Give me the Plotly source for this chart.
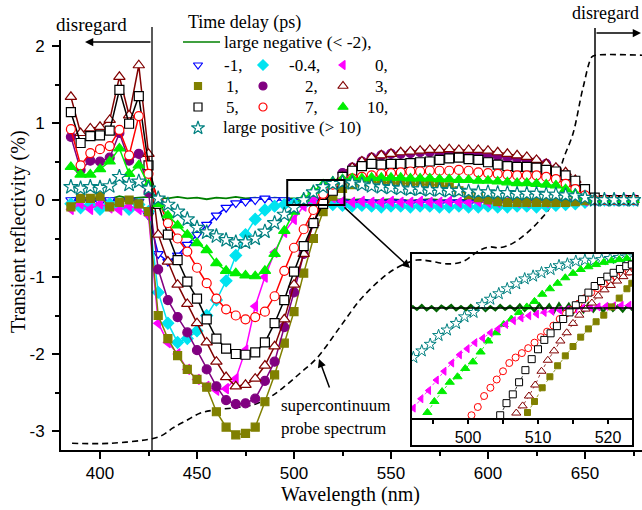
import numpy as np
import plotly.graph_objects as go

# ---------------- data (main panel) ----------------
WL = list(range(385, 680, 5))  # 385 ... 675 nm

LARGE_NEG = [0.02, 0.04, 0.00, 0.03, 0.01, 0.05, 0.02, 0.03, 0.04,
             0.03, 0.02, 0.04, 0.02, 0.03, 0.01, 0.03, 0.02, 0.04, 0.02, 0.03, 0.01, 0.03, 0.02, 0.02, 0.01, 0.00, 0.01, 0.00,
             0.01, 0.00, 0.01, -0.01, 0.00, 0.01, 0.00, -0.01, 0.00, 0.01, 0.00, -0.01, 0.00, 0.00, 0.01, -0.01, 0.00, 0.00, -0.01, 0.00, 0.01, 0.00, -0.01, 0.00, 0.00, -0.01,
             0.0, 0.0, 0.0, 0.0, 0.0]
D_M1 = [0.00, -0.02, 0.00, -0.03, 0.00, -0.02, 0.00, -0.02, -0.20,
        -0.70, -0.80, -0.72, -0.58, -0.45, -0.32, -0.20, -0.10, -0.04, -0.02, 0.00, 0.02, 0.00, 0.00, -0.02, -0.02, -0.03, -0.03, -0.03,
        -0.03, -0.04, -0.03, -0.03, -0.04, -0.03, -0.03, -0.04, -0.03, -0.03, -0.04, -0.03, -0.03, -0.04, -0.03, -0.03, -0.04, -0.03, -0.03, -0.04, -0.03, -0.03, -0.03, -0.02, -0.02, -0.01,
        0.0, 0.0, 0.0, 0.0, 0.0]
D_M04 = [-0.05, -0.10, -0.06, -0.12, -0.05, -0.08, -0.12, -0.06, -0.15,
         -1.20, -1.60, -1.85, -1.80, -1.70, -1.50, -1.30, -1.05, -0.72, -0.45, -0.25, -0.13, -0.08, -0.06, -0.05, -0.05, -0.05, -0.06, -0.06,
         -0.07, -0.08, -0.07, -0.08, -0.09, -0.08, -0.08, -0.09, -0.08, -0.08, -0.09, -0.09, -0.08, -0.09, -0.09, -0.08, -0.09, -0.09, -0.08, -0.08, -0.09, -0.08, -0.07, -0.06, -0.05, -0.03,
         0.0, 0.0, 0.0, 0.0, 0.0]
D_P0 = [-0.12, -0.05, -0.12, -0.05, -0.10, -0.13, -0.08, -0.12, -0.20,
        -1.60, -1.85, -2.00, -2.20, -2.33, -2.42, -2.47, -2.45, -2.32, -1.95, -1.38, -1.00, -0.68, -0.42, -0.25, -0.08, 0.00, 0.03, 0.03,
        -0.02, -0.03, -0.02, -0.03, -0.03, -0.02, -0.03, -0.03, -0.02, -0.03, -0.03, -0.02, -0.03, -0.03, -0.02, -0.03, -0.03, -0.02, -0.03, -0.03, -0.02, -0.03, -0.02, -0.02, -0.01, -0.01,
        0.0, 0.0, 0.0, 0.0, 0.0]
D_P1 = [-0.09, 0.02, 0.02, 0.05, -0.09, -0.03, 0.00, -0.05, -0.15,
        -1.50, -1.80, -2.02, -2.20, -2.33, -2.43, -2.75, -2.95, -3.05, -3.03, -2.95, -2.62, -2.27, -1.86, -1.45, -0.95, -0.50, -0.15, 0.05,
        0.15, 0.20, 0.22, 0.23, 0.23, 0.22, 0.22, 0.21, 0.20, 0.20, 0.19, 0.17, 0.12, 0.07, 0.03, 0.00, -0.02, -0.03, -0.03, -0.03, -0.03, -0.03, -0.03, -0.03, -0.02, -0.01,
        0.0, 0.0, 0.0, 0.0, 0.0]
D_P2 = [0.82, 0.39, 0.51, 0.50, 0.55, 0.87, 0.51, 0.60, 0.10,
        -0.90, -1.30, -1.52, -1.72, -1.95, -2.20, -2.42, -2.60, -2.65, -2.64, -2.58, -2.35, -2.10, -1.65, -1.20, -0.70, -0.30, 0.00, 0.15,
        0.35, 0.42, 0.50, 0.55, 0.58, 0.60, 0.60, 0.61, 0.62, 0.62, 0.62, 0.62, 0.62, 0.60, 0.60, 0.58, 0.57, 0.55, 0.54, 0.52, 0.50, 0.47, 0.40, 0.30, 0.22, 0.10,
        0.0, 0.0, 0.0, 0.0, 0.0]
D_P3 = [1.34, 0.87, 0.93, 0.95, 1.04, 1.60, 1.10, 1.75, 0.60,
        -0.45, -0.80, -1.10, -1.35, -1.60, -1.85, -2.10, -2.30, -2.42, -2.40, -2.32, -2.15, -1.90, -1.55, -1.10, -0.70, -0.30, 0.00, 0.15,
        0.30, 0.42, 0.50, 0.55, 0.58, 0.60, 0.62, 0.63, 0.64, 0.65, 0.65, 0.66, 0.65, 0.65, 0.65, 0.64, 0.62, 0.60, 0.58, 0.56, 0.52, 0.47, 0.42, 0.36, 0.26, 0.10,
        0.0, 0.0, 0.0, 0.0, 0.0]
D_P5 = [1.14, 0.74, 0.83, 0.84, 0.90, 1.43, 0.99, 1.35, 0.45,
        -0.05, -0.45, -0.78, -1.06, -1.28, -1.55, -1.80, -1.93, -2.00, -2.01, -1.98, -1.85, -1.60, -1.30, -0.93, -0.60, -0.30, -0.05, 0.12,
        0.30, 0.38, 0.44, 0.47, 0.46, 0.47, 0.47, 0.48, 0.49, 0.50, 0.52, 0.54, 0.55, 0.53, 0.52, 0.49, 0.46, 0.44, 0.43, 0.43, 0.42, 0.39, 0.37, 0.32, 0.25, 0.14,
        0.03, 0.0, 0.0, 0.0, 0.0]
D_P7 = [0.92, 0.45, 0.61, 0.66, 0.70, 0.91, 0.58, 1.09, 0.34,
        0.00, -0.30, -0.50, -0.67, -0.88, -1.08, -1.28, -1.42, -1.50, -1.55, -1.52, -1.45, -1.25, -0.92, -0.62, -0.38, -0.13, 0.08, 0.20,
        0.25, 0.28, 0.30, 0.32, 0.34, 0.35, 0.36, 0.37, 0.37, 0.38, 0.38, 0.38, 0.39, 0.38, 0.36, 0.35, 0.34, 0.33, 0.32, 0.32, 0.32, 0.30, 0.27, 0.21, 0.14, 0.06,
        0.0, 0.0, 0.0, 0.0, 0.0]
D_P10 = [0.43, 0.33, 0.33, 0.40, 0.50, 0.67, 0.34, 0.45, 0.20,
         -0.05, -0.20, -0.33, -0.45, -0.56, -0.65, -0.82, -0.92, -0.95, -0.98, -0.99, -0.92, -0.70, -0.40, -0.15, 0.02, 0.12, 0.20, 0.24,
         0.27, 0.28, 0.28, 0.29, 0.29, 0.29, 0.29, 0.28, 0.28, 0.28, 0.27, 0.27, 0.26, 0.26, 0.25, 0.25, 0.24, 0.23, 0.22, 0.22, 0.21, 0.20, 0.19, 0.14, 0.08, 0.03,
         0.0, 0.0, 0.0, 0.0, 0.0]
LARGE_POS = [0.17, 0.15, 0.17, 0.16, 0.18, 0.30, 0.20, 0.24, 0.15,
             0.02, -0.06, -0.15, -0.25, -0.36, -0.42, -0.47, -0.52, -0.55, -0.55, -0.50, -0.41, -0.30, -0.19, -0.10, 0.00, 0.10, 0.17, 0.21,
             0.23, 0.22, 0.20, 0.18, 0.17, 0.16, 0.15, 0.14, 0.14, 0.13, 0.13, 0.12, 0.12, 0.11, 0.10, 0.10, 0.09, 0.09, 0.08, 0.08, 0.08, 0.07, 0.07, 0.06, 0.05, 0.03,
             0.0, 0.0, 0.0, 0.0, 0.0]

# supercontinuum probe spectrum (arbitrary units drawn on the same axis)
PROBE_WL = [385.6, 405, 426.8, 432.5, 437.6, 444.8, 451.5, 458.2, 468.6, 478.9, 487.6, 494.3, 503.1, 511.9,
            523.7, 534, 544.3, 553, 563.4, 571.6, 578.9, 587, 595.9, 601, 606, 612.9, 620, 626.8, 632,
            638.7, 643.8, 649, 653.6, 655.5, 680]
PROBE_Y = [-3.16, -3.16, -3.10, -3.05, -2.96, -2.86, -2.77, -2.73, -2.70, -2.66, -2.56, -2.44, -2.25, -2.05,
           -1.65, -1.30, -1.04, -0.88, -0.78, -0.80, -0.83, -0.80, -0.65, -0.61, -0.62, -0.56, -0.43, -0.26, -0.09,
           0.52, 0.86, 1.46, 1.86, 1.88, 1.88]

# ---------------- data (inset, 492-523 nm) ----------------
IN_LN_Y = [0.004, -0.003, 0.005, -0.004, 0.003, -0.005, 0.004, -0.002, 0.005, -0.004, 0.003, -0.004,
           0.005, -0.003, 0.004, -0.005, 0.003, -0.004, 0.005, -0.003, 0.004, -0.004, 0.006, -0.005,
           0.004, -0.006, 0.007, -0.005, 0.006, -0.007, 0.008, -0.006, 0.007, -0.008, 0.006, -0.007,
           0.008, -0.006, 0.005, -0.007, 0.006, -0.005, 0.004, -0.006, 0.005, -0.004]
IN_LP_X = [492.2, 493.4, 494.6, 495.8, 497.0, 498.3, 499.5, 500.8, 502.0, 503.2, 504.4, 505.6, 506.9,
           508.1, 509.3, 510.5, 511.8, 513.0, 514.2, 515.4, 516.7, 517.9, 519.1, 520.3, 521.6, 522.8]
IN_LP_Y = [-0.090, -0.078, -0.066, -0.050, -0.040, -0.028, -0.016, -0.008, 0.006, 0.016, 0.026, 0.035, 0.044,
           0.053, 0.058, 0.064, 0.070, 0.077, 0.080, 0.085, 0.087, 0.086, 0.088, 0.090, 0.092, 0.093]
IN_P10_X = [494.2, 495.2, 496.3, 497.4, 498.5, 499.6, 500.7, 501.8, 502.9, 504.0, 505.1, 506.2, 507.3, 508.4,
            509.5, 510.6, 511.7, 512.8, 513.9, 515.0, 516.1, 517.2, 518.3, 519.4, 520.5, 521.6, 522.7]
IN_P10_Y = [-0.190, -0.170, -0.152, -0.135, -0.125, -0.110, -0.098, -0.080, -0.060, -0.045, -0.030, -0.020, -0.008, 0.002,
            0.012, 0.025, 0.035, 0.045, 0.055, 0.063, 0.070, 0.075, 0.079, 0.083, 0.086, 0.088, 0.090]
IN_P0_X = [492.2, 493.3, 494.4, 495.5, 496.6, 497.7, 498.8, 499.9, 501.0, 502.1, 503.2, 504.3, 505.4, 506.5, 507.6,
           508.7, 509.8, 510.9, 512.0, 513.1, 514.2, 515.3, 516.4, 517.5, 518.6, 519.7, 520.8, 521.9, 523.0]
IN_P0_Y = [-0.182, -0.165, -0.150, -0.131, -0.115, -0.100, -0.085, -0.074, -0.063, -0.055, -0.045, -0.038, -0.030, -0.023, -0.018,
           -0.014, -0.011, -0.008, -0.006, -0.004, -0.003, -0.002, 0.000, 0.001, 0.002, 0.003, 0.004, 0.005, 0.005]
IN_P7_X = [500.5, 501.4, 502.3, 503.2, 504.1, 505.0, 505.9, 506.8, 507.7, 508.6, 509.5, 510.4, 511.3, 512.2, 513.1,
           514.0, 514.9, 515.8, 516.7, 517.6, 518.5, 519.4, 520.3, 521.2, 522.1, 523.0]
IN_P7_Y = [-0.195, -0.180, -0.160, -0.145, -0.130, -0.115, -0.100, -0.090, -0.082, -0.073, -0.063, -0.053, -0.043, -0.032, -0.020,
           -0.010, -0.003, 0.008, 0.018, 0.028, 0.036, 0.044, 0.050, 0.057, 0.062, 0.066]
IN_P5_X = [504.6, 505.5, 506.4, 507.3, 508.2, 509.1, 510.0, 510.9, 511.8, 512.7, 513.6, 514.5, 515.4, 516.3, 517.2,
           518.1, 519.0, 519.9, 520.8, 521.7, 522.6, 523.4]
IN_P5_Y = [-0.195, -0.173, -0.157, -0.135, -0.113, -0.093, -0.075, -0.058, -0.046, -0.033, -0.020, -0.008, 0.005, 0.016, 0.028,
           0.040, 0.049, 0.057, 0.064, 0.071, 0.076, 0.079]
IN_P3_X = [506.9, 507.8, 508.7, 509.6, 510.5, 511.4, 512.3, 513.2, 514.1, 515.0, 515.9, 516.8, 517.7, 518.6, 519.5,
           520.4, 521.3, 522.2, 523.1]
IN_P3_Y = [-0.191, -0.178, -0.160, -0.140, -0.115, -0.095, -0.078, -0.060, -0.045, -0.028, -0.013, -0.002, 0.009, 0.022, 0.033,
           0.041, 0.049, 0.057, 0.064]
IN_P1_X = [508.5, 509.5, 510.6, 511.7, 512.8, 513.9, 515.0, 516.1, 517.2, 518.3, 519.4, 520.5, 521.6, 522.7, 523.4]
IN_P1_Y = [-0.190, -0.170, -0.145, -0.125, -0.105, -0.087, -0.070, -0.053, -0.038, -0.025, -0.013, 0.002, 0.018, 0.035, 0.045]

# ---------------- geometry ----------------
W, H = 642, 510
ML, MR, MT, MB = 61, 0, 40, 60
PW, PH = W - ML - MR, H - MT - MB
X_RANGE = [400 - 39 / 1.94, 400 + 542 / 1.94]
Y_RANGE = [(200 - 450) / 77, (200 - 40) / 77]
ZOOM_BOX = dict(x0=496.5, x1=526.0, y0=-0.065, y1=0.26)
INSET_X_RANGE = [491.86, 523.57]
INSET_Y_RANGE = [-0.2, 0.1]

SERIF = "Times New Roman, Liberation Serif, Times, serif"
SANS = "Arial, Liberation Sans, Helvetica, sans-serif"


def px(x):
    return (x - ML) / PW


def py(y):
    return (H - MB - y) / PH


# style per series: (symbol, size, fill, line colour)
STYLES = {
    "-1": ("triangle-down", 9, "white", "#0000ff"),
    "-0.4": ("diamond", 9, "#00e3f0", "#00e3f0"),
    "0": ("triangle-left", 9, "#ff00ff", "#ff00ff"),
    "1": ("square", 8, "#808000", "#808000"),
    "2": ("circle", 9, "#800080", "#800080"),
    "3": ("triangle-up", 10, "white", "#800000"),
    "5": ("square", 9, "white", "#000000"),
    "7": ("circle", 9, "white", "#ff0000"),
    "10": ("triangle-up", 10, "#00ee00", "#00ee00"),
    "lp": ("star", 11, "white", "#008080"),
}

fig = go.Figure()

# probe spectrum (dashed)
fig.add_trace(go.Scatter(x=PROBE_WL, y=PROBE_Y, mode="lines", line=dict(color="black", width=1.6, dash="6px,4px"),
                         line_shape="spline", hoverinfo="skip"))

fig.add_trace(go.Scatter(x=WL, y=LARGE_NEG, mode="lines", line=dict(color="#008000", width=1.8)))

main_series = [("-1", D_M1), ("-0.4", D_M04), ("0", D_P0), ("1", D_P1), ("2", D_P2), ("3", D_P3),
               ("5", D_P5), ("7", D_P7), ("10", D_P10), ("lp", LARGE_POS)]
for key, vals in main_series:
    sym, size, fill, col = STYLES[key]
    fig.add_trace(go.Scatter(
        x=WL, y=vals, mode="lines+markers",
        line=dict(color=col, width=1.5),
        marker=dict(symbol=sym, size=size, color=fill, line=dict(color=col, width=1.2)),
    ))

# inset traces
fig.add_trace(go.Scatter(x=list(np.linspace(492.0, 523.5, len(IN_LN_Y))), y=IN_LN_Y, mode="lines",
                         line=dict(color="#006400", width=2.5), xaxis="x2", yaxis="y2"))
inset_series = [("lp", IN_LP_X, IN_LP_Y), ("10", IN_P10_X, IN_P10_Y), ("0", IN_P0_X, IN_P0_Y),
                ("7", IN_P7_X, IN_P7_Y), ("5", IN_P5_X, IN_P5_Y), ("3", IN_P3_X, IN_P3_Y), ("1", IN_P1_X, IN_P1_Y)]
for key, xs, ys in inset_series:
    sym, size, fill, col = STYLES[key]
    fig.add_trace(go.Scatter(
        x=xs, y=ys, mode="lines+markers", xaxis="x2", yaxis="y2",
        line=dict(color=col, width=0.8, dash="dot"),
        marker=dict(symbol=sym, size=size - 2, color=fill, line=dict(color=col, width=1)),
    ))

# ---------------- legend (pixel coordinate overlay) ----------------
LEG_COLS = [198, 263, 343]
LEG_ROWS = [65, 86, 107, 128]
legend_grid = [["-1", "-0.4", "0"], ["1", "2", "3"], ["5", "7", "10"]]
for r, row in enumerate(legend_grid):
    for c, key in enumerate(row):
        sym, size, fill, col = STYLES[key]
        fig.add_trace(go.Scatter(x=[LEG_COLS[c]], y=[LEG_ROWS[r]], mode="markers", xaxis="x3", yaxis="y3",
                                 cliponaxis=False,
                                 marker=dict(symbol=sym, size=size - 1, color=fill, line=dict(color=col, width=1.2))))
sym, size, fill, col = STYLES["lp"]
fig.add_trace(go.Scatter(x=[LEG_COLS[0]], y=[LEG_ROWS[3]], mode="markers", xaxis="x3", yaxis="y3", cliponaxis=False,
                         marker=dict(symbol=sym, size=size - 1, color=fill, line=dict(color=col, width=1.2))))
fig.add_trace(go.Scatter(x=[183, 220], y=[42, 42], mode="lines", xaxis="x3", yaxis="y3", cliponaxis=False,
                         line=dict(color="#008000", width=1.6)))

ann = []


def text(t, x, y, size=17, xanchor="left", family=SERIF, textangle=0):
    ann.append(dict(text=t, x=px(x), y=py(y), xref="paper", yref="paper", showarrow=False,
                    xanchor=xanchor, yanchor="middle", textangle=textangle,
                    font=dict(family=family, size=size, color="black")))


def arrow(hx, hy, tx, ty):
    ann.append(dict(text="", x=px(hx), y=py(hy), xref="paper", yref="paper", showarrow=True,
                    ax=tx - hx, ay=ty - hy, axref="pixel", ayref="pixel",
                    arrowhead=2, arrowsize=1.1, arrowwidth=1.5, arrowcolor="black", standoff=0, startstandoff=0))


text("Time delay (ps)", 186, 23, size=18)
text("large negative (< -2),", 222, 42, size=17.5)
text("-1,", 222, LEG_ROWS[0]); text("-0.4,", 322, LEG_ROWS[0], xanchor="right"); text("0,", 390, LEG_ROWS[0], xanchor="right")
text("1,", 224, LEG_ROWS[1]); text("2,", 320, LEG_ROWS[1], xanchor="right"); text("3,", 390, LEG_ROWS[1], xanchor="right")
text("5,", 224, LEG_ROWS[2]); text("7,", 320, LEG_ROWS[2], xanchor="right"); text("10,", 390, LEG_ROWS[2], xanchor="right")
text("large positive (> 10)", 221, LEG_ROWS[3])

text("disregard", 54, 25, size=19)
text("disregard", 641, 13, size=18, xanchor="right")
text("supercontinuum", 279, 405)
text("probe spectrum", 279, 428)
text("Wavelength (nm)", 350, 494, size=20, xanchor="center")
text("Transient reflectivity (%)", 18, 232, size=20, xanchor="center", textangle=-90)

arrow(85, 42, 152, 42)
arrow(641, 33, 595, 33)
arrow(410, 268, 343, 206)
arrow(319, 359, 330, 389)

shapes = [
    dict(type="line", xref="paper", yref="paper", x0=px(152), x1=px(152), y0=py(450), y1=py(27),
         line=dict(color="black", width=1.3)),
    dict(type="line", xref="paper", yref="paper", x0=px(595), x1=px(595), y0=py(253), y1=py(28),
         line=dict(color="black", width=1.5)),
    dict(type="rect", xref="x", yref="y", line=dict(color="black", width=2), **ZOOM_BOX),
    dict(type="rect", xref="paper", yref="paper", x0=px(411), x1=px(633), y0=py(446), y1=py(253),
         line=dict(color="black", width=2)),
    dict(type="line", xref="x2 domain", yref="y2", x0=0, x1=1, y0=0, y1=0, line=dict(color="black", width=1.3)),
]

tickfont = dict(family=SANS, size=17, color="black")
fig.update_layout(
    width=W, height=H, margin=dict(l=ML, r=MR, t=MT, b=MB),
    paper_bgcolor="white", plot_bgcolor="rgba(0,0,0,0)", showlegend=False,
    annotations=ann, shapes=shapes,
    xaxis=dict(range=X_RANGE, showline=True, linecolor="black", linewidth=2, ticks="outside", ticklen=7,
               tickwidth=2, tickcolor="black", tickvals=[400, 450, 500, 550, 600, 650], tickfont=tickfont,
               showgrid=False, zeroline=False,
               minor=dict(tickvals=[425, 475, 525, 575, 625, 675], ticks="outside", ticklen=4, tickwidth=2,
                          tickcolor="black")),
    yaxis=dict(range=Y_RANGE, showline=True, linecolor="black", linewidth=2, ticks="outside", ticklen=7,
               tickwidth=2, tickcolor="black", tickvals=[-3, -2, -1, 0, 1, 2],
               ticktext=["-3", "-2", "-1", "0", "1", "2"], tickfont=tickfont, ticklabelstandoff=4,
               showgrid=False, zeroline=False,
               minor=dict(tickvals=[-2.5, -1.5, -0.5, 0.5, 1.5], ticks="outside", ticklen=4, tickwidth=2,
                          tickcolor="black")),
    xaxis2=dict(domain=[px(411), px(633)], anchor="y2", range=INSET_X_RANGE, showline=True, linecolor="black",
                linewidth=1.5, ticks="outside", ticklen=4, tickwidth=1.5, tickcolor="black",
                tickvals=[500, 510, 520], tickfont=dict(family=SANS, size=16, color="black"),
                showgrid=False, zeroline=False,
                minor=dict(tickvals=[495, 505, 515], ticks="outside", ticklen=4, tickwidth=1.5, tickcolor="black")),
    yaxis2=dict(domain=[py(418), py(253)], anchor="x2", range=INSET_Y_RANGE, visible=False),
    xaxis3=dict(overlaying="x", range=[ML, W], visible=False, anchor="y3"),
    yaxis3=dict(overlaying="y", range=[H - MB, MT], visible=False, anchor="x3"),
)

fig.write_html("out.html")
